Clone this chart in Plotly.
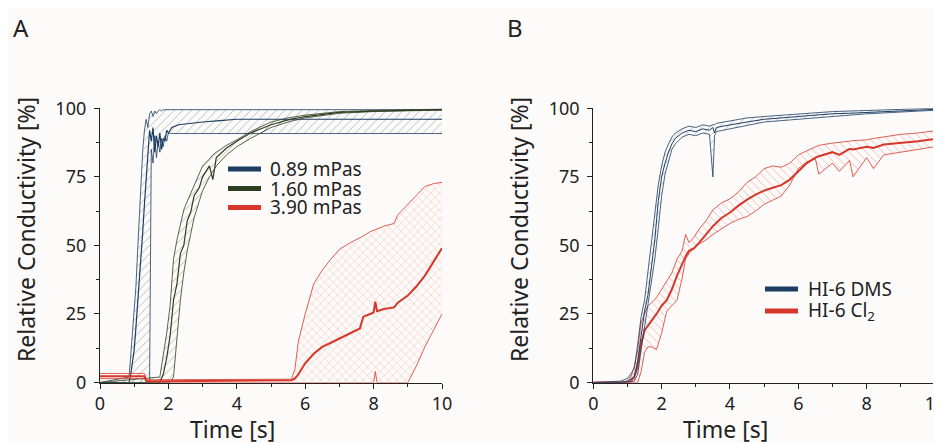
import plotly.graph_objects as go

# ---- panel A : three viscosities ----
t_a_blue = [0, 0.85, 0.9, 0.95, 1.0, 1.05, 1.1, 1.15, 1.2, 1.25, 1.3, 1.35, 1.4, 1.45, 1.5,
            1.55, 1.6, 1.65, 1.7, 1.75, 1.8, 1.85, 1.9, 1.95, 2.0, 2.1, 2.3, 2.6, 3.0, 3.5,
            4, 5, 6, 7, 8, 9, 10]
a_blue_mean = [0, 0, 3, 8, 12, 20, 28, 38, 45, 55, 65, 75, 85, 92, 88, 93, 84, 90, 86, 91,
               85, 89, 88, 92, 91, 93, 94, 94.5, 95, 95.5, 96, 96, 96, 96, 96, 96, 96]
a_blue_up = [0, 2, 10, 18, 25, 35, 48, 60, 75, 85, 92, 96, 93, 98, 99, 97, 99, 98, 99, 99.5,
             99, 99.5, 99.5, 99.5, 99.5, 99.5, 99.5, 99.5, 99.5, 99.5, 99.5, 99.5, 99.5, 99.5,
             99.5, 99.5, 99.5]
a_blue_lo = [0, 0, 0, 0, 0, 0, 0, 0, 0, 0, 0, 0, 0, 0, 85, 80, 90, 82, 88, 84, 89, 86, 90, 88,
             91, 90.8, 90.8, 90.8, 90.8, 90.8, 90.8, 90.8, 90.8, 90.8, 90.8, 90.8, 90.8]

t_a_green = [0, 1.75, 1.85, 1.95, 2.05, 2.15, 2.25, 2.35, 2.45, 2.55, 2.65, 2.75, 2.9, 3.0,
             3.2, 3.3, 3.4, 3.7, 4.0, 4.4, 5.0, 5.5, 6.0, 7.0, 8.0, 9.0, 10]
a_green_mean = [0, 0, 3, 9, 17, 30, 36, 47, 50, 59, 62, 68, 71, 75, 79, 74, 82, 85.5, 88, 91,
                94, 95.8, 97, 98.5, 99, 99.3, 99.5]
a_green_up = [0, 2, 10, 18, 28, 45, 52, 58, 63, 66, 69, 72, 76, 79, 81.5, 83, 84, 86.5, 88.5,
              91.5, 95, 96.5, 97.5, 98.8, 99.2, 99.5, 99.7]
a_green_lo = [0, 0, 0, 0, 0, 2, 15, 30, 40, 48, 54, 60, 66, 70, 75, 77, 79, 83, 86, 89, 93, 95,
              96.5, 98.2, 98.8, 99.1, 99.3]

t_a_red = [0, 0.5, 1.0, 1.3, 1.35, 1.4, 2, 3, 4, 5, 5.5, 5.6, 5.7, 5.8, 5.9, 6.0, 6.25, 6.5,
           6.75, 7.0, 7.25, 7.5, 7.6, 7.65, 7.7, 7.9, 8.0, 8.05, 8.1, 8.3, 8.6, 8.7, 9.0, 9.25,
           9.5, 9.75, 10]
a_red_mean = [2.3, 2.3, 2.3, 2.3, 0.6, 0.5, 0.5, 0.6, 0.5, 0.6, 0.6, 0.8, 1.5, 3, 5, 7, 10.5,
              13, 14.5, 16, 17.5, 19, 19.7, 22, 24, 25, 25.5, 29.5, 26, 26.8, 27.4, 29, 31.7,
              35, 39, 44, 49]
a_red_up = [3.3, 3.3, 3.3, 3.3, 1.0, 1.0, 1.0, 1.0, 1.0, 1.0, 1.0, 1.2, 5, 15, 20, 25, 36, 41,
            45, 48.5, 50.5, 52, 52.6, 53, 53.5, 55, 55.6, 55.8, 56, 57, 58, 61, 65, 68, 71.5,
            72.5, 73]
a_red_lo = [1.4, 1.4, 1.4, 1.4, 0.2, 0.1, 0, 0, 0, 0, 0, 0, 0, 0, 0, 0, 0, 0, 0, 0, 0, 0, 0, 0,
            0, 0, 0, 4, 0, 0, 0, 0, 0, 6, 13, 19, 25]

# ---- panel B : two formulations ----
t_b_blue = [0, 0.8, 1.0, 1.2, 1.3, 1.4, 1.5, 1.6, 1.7, 1.8, 1.9, 2.0, 2.1, 2.2, 2.3, 2.4, 2.6,
            2.8, 3.0, 3.2, 3.4, 3.5, 3.55, 3.6, 3.8, 4.0, 4.5, 5.0, 5.5, 6, 6.5, 7, 7.5, 8,
            8.5, 9, 9.5, 10]
b_blue_mean = [0, 0, 0.5, 2, 8, 18, 26, 32, 42, 52, 66, 75, 80, 84, 87, 89, 91, 92, 91.5, 92.5,
               92, 93, 91, 93, 93.5, 94, 95, 96, 96.5, 97, 97.5, 98, 98.2, 98.5, 98.8, 99.2,
               99.4, 99.6]
b_blue_up = [0, 0.5, 1.5, 5, 14, 24, 30, 40, 50, 62, 72, 79, 84, 87, 89.5, 91, 92.5, 93.5, 93,
             94, 93.5, 94, 94, 94.5, 95, 95.5, 96.5, 97, 97.5, 98, 98.5, 98.8, 99, 99.2, 99.5,
             99.7, 99.8, 100]
b_blue_lo = [0, 0, 0, 0.5, 3, 12, 20, 28, 36, 45, 56, 68, 76, 81, 85, 87, 89.5, 90.5, 90, 91,
             90.5, 75, 90, 91.5, 92, 92.5, 93.5, 95, 95.5, 96, 96.5, 97.2, 97.5, 98, 98.3, 98.7,
             99, 99.3]

t_b_red = [0, 1.0, 1.1, 1.2, 1.3, 1.4, 1.5, 1.6, 1.7, 1.85, 2.0, 2.15, 2.3, 2.45, 2.6, 2.7,
           2.8, 2.95, 3.1, 3.3, 3.5, 3.75, 4.0, 4.25, 4.5, 4.75, 5.0, 5.25, 5.5, 5.75, 6.0,
           6.25, 6.5, 6.6, 7.0, 7.2, 7.5, 7.6, 8.0, 8.2, 8.5, 9.0, 9.5, 10]
b_red_mean = [0, 0, 0.5, 2, 6, 14, 19, 21, 22.5, 25, 28, 30, 34, 39, 43, 46, 48, 49, 51, 54, 57,
              60, 62, 64.5, 66.7, 68.5, 70, 71, 72, 74, 77, 80, 82, 82.5, 84, 83, 85.2, 85,
              86, 85.5, 86.8, 87.3, 88, 88.8]
b_red_up = [0, 0.3, 2, 6, 12, 22, 25, 28, 29, 31, 34, 37, 40, 45, 48, 54, 51, 53, 56, 59, 63,
            65.5, 67, 69.5, 73, 75, 78, 79, 78.5, 80, 83, 84.5, 86, 86.5, 87.3, 87.5, 88, 88.2,
            88.5, 89, 89.5, 90.5, 91, 91.8]
b_red_lo = [0, 0, 0, 0, 0, 4, 11, 13, 13, 12, 18, 26, 28, 30, 38, 45, 47, 49, 50.5, 52, 54, 56,
            58, 59.5, 60.5, 62.5, 65, 66.5, 68, 72, 78, 80.5, 81.5, 76, 80, 77, 81, 75, 82, 78,
            83, 84, 85, 86]

legend_a = ["0.89 mPas", "1.60 mPas", "3.90 mPas"]
legend_b = ["HI-6 DMS", "HI-6 Cl<sub>2</sub>"]

BLUE = "#1d3d63"
GREEN = "#2f3d1f"
RED = "#d7372b"
FONT = "Noto Sans"

fig = go.Figure()


def band(t, lo, up, mean, color, shape, xa, ya, edge_w=0.8, mean_w=1.2):
    fig.add_trace(go.Scatter(x=t, y=lo, mode="lines", line=dict(color=color, width=edge_w),
                             xaxis=xa, yaxis=ya, showlegend=False, hoverinfo="skip"))
    fig.add_trace(go.Scatter(x=t, y=up, mode="lines", line=dict(color=color, width=edge_w),
                             fill="tonexty", fillcolor="rgba(0,0,0,0)",
                             fillpattern=dict(shape=shape, fgcolor=color, fgopacity=0.35,
                                              size=6, solidity=0.15),
                             xaxis=xa, yaxis=ya, showlegend=False, hoverinfo="skip"))
    fig.add_trace(go.Scatter(x=t, y=mean, mode="lines", line=dict(color=color, width=mean_w),
                             xaxis=xa, yaxis=ya, showlegend=False))


band(t_a_blue, a_blue_lo, a_blue_up, a_blue_mean, BLUE, "/", "x", "y")
band(t_a_green, a_green_lo, a_green_up, a_green_mean, GREEN, "/", "x", "y")
band(t_a_red, a_red_lo, a_red_up, a_red_mean, RED, "x", "x", "y", mean_w=2)
band(t_b_red, b_red_lo, b_red_up, b_red_mean, RED, "\\", "x2", "y2", mean_w=2)
band(t_b_blue, b_blue_lo, b_blue_up, b_blue_mean, BLUE, "/", "x2", "y2", mean_w=1)

# page body has an 8px margin, so the figure is shrunk and shifted to fit the window
OFF = 8
W, H = 941 - OFF, 443 - OFF


def px(x):
    return (x - OFF) / W


def py(y):
    return 1 - (y - OFF) / H


axis_common = dict(showline=True, linecolor="#222", linewidth=1.3, ticks="outside",
                   ticklen=5, tickwidth=1.2, tickcolor="#222", showgrid=False, zeroline=False,
                   automargin=False, tickfont=dict(family=FONT, size=18, color="#222"))
xa = dict(axis_common, range=[0, 10], dtick=2, tick0=0, ticklabeloverflow="allow",
          minor=dict(dtick=1, ticks="outside", ticklen=3, tickcolor="#222"))
ya = dict(axis_common, range=[0, 100], dtick=25, tick0=0, ticklabelstandoff=4,
          minor=dict(dtick=12.5, ticks="outside", ticklen=3, tickcolor="#222"))

fig.update_layout(
    width=W, height=H,
    margin=dict(l=0, r=0, t=0, b=0, autoexpand=False),
    paper_bgcolor="#fcfbf9", plot_bgcolor="#fcfbf9",
    font=dict(family=FONT, color="#222"),
    showlegend=False,
    xaxis=dict(xa, domain=[px(100), px(442)], anchor="y"),
    yaxis=dict(ya, domain=[py(382.5), py(108.3)], anchor="x"),
    xaxis2=dict(xa, domain=[px(593.3), px(935)], anchor="y2"),
    yaxis2=dict(ya, domain=[py(382.5), py(108.3)], anchor="x2"),
)

annos = []
# panel letters and axis titles
for letter, lx, ytx, xtx in [("A", 11, 26, 232), ("B", 505, 519, 725)]:
    annos.append(dict(text=letter, x=px(lx), y=py(28), xref="paper", yref="paper",
                      xanchor="left", yanchor="middle", showarrow=False,
                      font=dict(size=24, family=FONT)))
    annos.append(dict(text="Relative Conductivity [%]", x=px(ytx), y=py(230), xref="paper",
                      yref="paper", xanchor="center", yanchor="middle", textangle=-90,
                      showarrow=False, font=dict(size=23, family=FONT)))
    annos.append(dict(text="Time [s]", x=px(xtx), y=py(429), xref="paper", yref="paper",
                      xanchor="center", yanchor="middle", showarrow=False,
                      font=dict(size=23, family=FONT)))

shapes = []
# legend keys
for name, color, ky in zip(legend_a, [BLUE, GREEN, RED], [169, 188.5, 207.5]):
    shapes.append(dict(type="line", xref="paper", yref="paper", x0=px(228), x1=px(261),
                       y0=py(ky), y1=py(ky), line=dict(color=color, width=5)))
    annos.append(dict(text=name, x=px(268), y=py(ky), xref="paper", yref="paper",
                      xanchor="left", yanchor="middle", showarrow=False,
                      font=dict(size=19, family=FONT)))
for name, color, ky in zip(legend_b, [BLUE, RED], [289, 311]):
    shapes.append(dict(type="line", xref="paper", yref="paper", x0=px(765), x1=px(798),
                       y0=py(ky), y1=py(ky), line=dict(color=color, width=5)))
    annos.append(dict(text=name, x=px(806), y=py(ky), xref="paper", yref="paper",
                      xanchor="left", yanchor="middle", showarrow=False,
                      font=dict(size=19, family=FONT)))

fig.update_layout(annotations=annos, shapes=shapes)

fig.write_html("out.html")
